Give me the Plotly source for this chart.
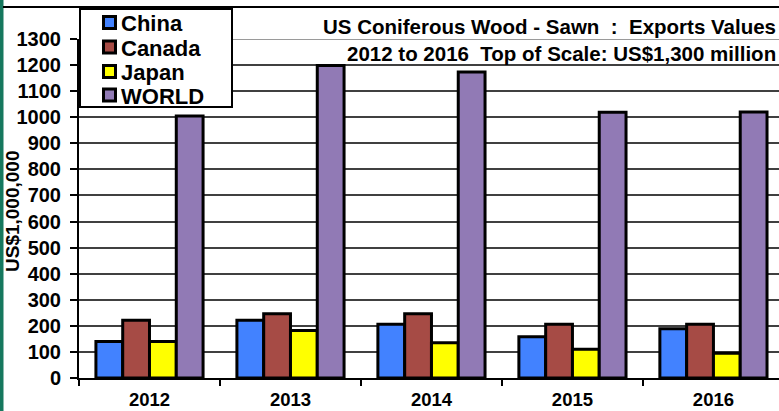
import plotly.graph_objects as go

years = ["2012", "2013", "2014", "2015", "2016"]
china = [140, 221, 206, 158, 189]
canada = [221, 246, 246, 206, 206]
japan = [140, 182, 135, 110, 95]
world = [1005, 1198, 1173, 1019, 1020]
series_names = ["China", "Canada", "Japan", "WORLD"]
series_colors = ["#4282ff", "#a64b45", "#ffff00", "#917ab5"]
y_ticks = list(range(0, 1301, 100))

W, H = 779, 411
L, R, T, B = 79, 0, 39, 33
pw, ph = W - L - R, H - T - B

def px_x(x):
    return (x - L) / pw

def px_y(y):
    return (H - B - y) / ph

FONT = "Liberation Sans, Arial, sans-serif"

fig = go.Figure()
for name, vals, col in zip(series_names, [china, canada, japan, world], series_colors):
    fig.add_trace(go.Bar(
        x=years, y=vals, name=name, showlegend=False,
        marker=dict(color=col, line=dict(color="black", width=3)),
    ))

shapes = [
    dict(type="rect", xref="paper", yref="paper",
         x0=px_x(0), x1=px_x(3.5), y0=px_y(411), y1=px_y(0),
         fillcolor="#16785e", line=dict(width=0), layer="above"),
    dict(type="line", xref="paper", yref="paper",
         x0=px_x(3), x1=px_x(779), y0=px_y(7), y1=px_y(7),
         line=dict(color="black", width=2)),
    # lighter top gridline
    dict(type="line", xref="paper", yref="y",
         x0=0, x1=1, y0=y_ticks[-1], y1=y_ticks[-1],
         line=dict(color="#9a9a9a", width=2), layer="between"),
    # legend box
    dict(type="rect", xref="paper", yref="paper",
         x0=px_x(80), x1=px_x(232), y0=px_y(107), y1=px_y(9),
         fillcolor="white", line=dict(color="black", width=2), layer="above"),
]
annotations = []
legend_centers = [22.5, 47, 71.5, 95]
for name, col, cy in zip(series_names, series_colors, legend_centers):
    shapes.append(dict(type="rect", xref="paper", yref="paper",
                       x0=px_x(103.5), x1=px_x(115.5), y0=px_y(cy + 6), y1=px_y(cy - 6),
                       fillcolor=col, line=dict(color="black", width=3), layer="above"))
    annotations.append(dict(text=name, xref="paper", yref="paper",
                            x=px_x(119), y=px_y(cy + 1), xanchor="left", yanchor="middle",
                            showarrow=False,
                            font=dict(family=FONT, size=22, color="black", weight="bold")))

annotations += [
    dict(text="US Coniferous Wood - Sawn  :  Exports Values",
         xref="paper", yref="paper", x=px_x(778), y=px_y(27),
         xanchor="right", yanchor="middle", showarrow=False,
         font=dict(family=FONT, size=20.5, color="black", weight="bold")),
    dict(text="2012 to 2016  Top of Scale: US$1,300 million",
         xref="paper", yref="paper", x=px_x(778), y=px_y(53),
         xanchor="right", yanchor="middle", showarrow=False,
         font=dict(family=FONT, size=20.5, color="black", weight="bold")),
    dict(text="US$1,000,000",
         xref="paper", yref="paper", x=px_x(12), y=px_y(211),
         xanchor="center", yanchor="middle", showarrow=False, textangle=-90,
         font=dict(family=FONT, size=19, color="black", weight="bold")),
]

fig.update_layout(
    width=W, height=H,
    margin=dict(l=L, r=R, t=T, b=B, pad=0),
    paper_bgcolor="white", plot_bgcolor="white",
    barmode="group", bargap=0.24, bargroupgap=0,
    showlegend=False,
    xaxis=dict(
        type="category", range=[-0.5, 4.465],
        showline=True, linecolor="black", linewidth=2,
        ticks="outside", tickson="boundaries", ticklen=6, tickcolor="black", tickwidth=2,
        tickfont=dict(family=FONT, size=18.5, color="black", weight="bold"),
        ticklabelstandoff=4,
        showgrid=False,
    ),
    yaxis=dict(
        range=[0, 1300], tickvals=y_ticks,
        showline=True, linecolor="black", linewidth=2,
        ticks="outside", ticklen=7, tickcolor="black", tickwidth=2,
        tickfont=dict(family=FONT, size=20, color="black", weight="bold"),
        ticklabelstandoff=5,
        showgrid=True, gridcolor="#404040", gridwidth=2,
        zeroline=False,
    ),
    shapes=shapes,
    annotations=annotations,
)

fig.write_html("out.html", config={"displayModeBar": False},
               post_script="document.body.style.margin='0';")
